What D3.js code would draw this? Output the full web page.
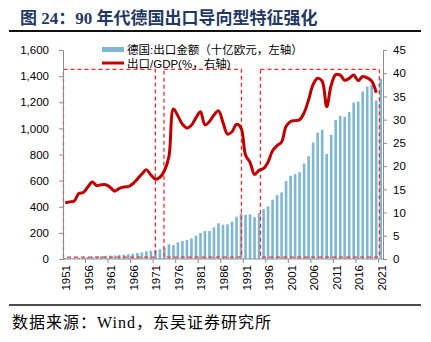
<!DOCTYPE html>
<html>
<head>
<meta charset="utf-8">
<script src="https://cdn.jsdelivr.net/npm/d3@7"></script>
<style>
  body { margin: 0; background: #fff; }
  svg text { font-family: "Liberation Sans", Arial, "Noto Sans CJK SC", sans-serif; }
</style>
</head>
<body>
<div id="chart"></div>
<script>
(function () {

  // years on the category axis
  var years = d3.range(1951, 2022)

  // exports, bn EUR (left axis)
  var exportValues = [
    7.5, 8.7, 9.6, 11.4, 13.1, 15.8, 18.3, 18.9, 21.0, 24.4,
    26.1, 26.9, 30.0, 33.0, 36.6, 41.1, 44.6, 50.0, 58.6, 64.1,
    69.9, 74, 87, 112, 107, 128, 138, 145, 158, 179,
    199, 214, 214, 242, 273, 263, 265, 286, 324, 350,
    337, 342, 321, 352, 382, 403, 454, 489, 510, 596,
    637, 650, 665, 731, 787, 892, 968, 989, 805, 950,
    1065, 1096, 1088, 1126, 1198, 1205, 1282, 1320, 1333, 1213,
    1379
  ]

  // exports / GDP, % (right axis), 1951-2020
  var ratioValues = [
    12.1, 12.3, 12.5, 14.1, 14.3, 15.5, 16.6, 15.8, 16.0, 16.0,
    15.4, 14.6, 15.2, 15.5, 15.6, 16.2, 17.2, 18.3, 19.2, 18.1,
    17.2, 17.6, 19.0, 22.0, 32.3, 30.8, 29.0, 28.2, 28.8, 30.4,
    31.7, 28.9, 29.6, 31.0, 31.9, 29.4, 26.9, 27.4, 29.0, 28.2,
    22.4, 20.8, 18.2, 19.1, 19.5, 20.9, 23.3, 24.4, 25.2, 28.6,
    29.6, 29.8, 30.0, 31.5, 34.3, 37.6, 38.9, 38.3, 32.8, 37.4,
    39.7, 39.6, 38.5, 38.9, 39.6, 38.4, 39.3, 39.0, 38.3, 35.8
  ]

  // tick labels
  var leftTicks = d3.range(0, 1601, 200)
  var rightTicks = d3.range(0, 46, 5)
  var xLabelYears = d3.range(1951, 2022, 5)

  // highlighted periods [start, end] as fractional years
  var periods = [[1950.6, 1971.0], [1972.9, 1990.1], [1994.3, 2020.7]]

  var legendNames = ['德国:出口金额（十亿欧元，左轴）', '出口/GDP(%，右轴)']

  var width = 431, height = 342
  var plot = { left: 63, right: 383, top: 50, bottom: 259 }

  var svg = d3.select('#chart').append('svg')
      .attr('width', width)
      .attr('height', height)

  // title
  svg.append('text')
    .attr('x', 20)
    .attr('y', 24)
    .attr('fill', '#1f3864')
    .attr('font-weight', 'bold')
    .attr('font-size', 17)
    .style('font-family', '"Liberation Serif", "Noto Sans CJK SC", serif')
    .text('图 24：90 年代德国出口导向型特征强化')

  svg.append('line')
    .attr('x1', 9).attr('x2', 421)
    .attr('y1', 31).attr('y2', 31)
    .attr('stroke', '#111').attr('stroke-width', 2)

  // scales
  const x = d3.scaleBand()
    .domain(years)
    .range([plot.left, plot.right])
    .paddingInner(0.42)
    .paddingOuter(0.21)

  const step = x.step()
  const cx = d => x(d) + x.bandwidth() / 2
  const xYear = t => plot.left + (t - 1951 + 0.5) * step

  const yLeft = d3.scaleLinear().domain([0, 1600]).range([plot.bottom, plot.top])
  const yRight = d3.scaleLinear().domain([0, 45]).range([plot.bottom, plot.top])

  // bars
  svg.append('g').selectAll('rect')
    .data(years)
    .join('rect')
    .attr('x', d => x(d))
    .attr('width', x.bandwidth())
    .attr('y', (d, i) => yLeft(exportValues[i]))
    .attr('height', (d, i) => plot.bottom - yLeft(exportValues[i]))
    .attr('fill', '#7db7d4')

  // dashed boxes
  svg.append('g').selectAll('rect')
    .data(periods)
    .join('rect')
    .attr('x', d => xYear(d[0]))
    .attr('width', d => xYear(d[1]) - xYear(d[0]))
    .attr('y', yLeft(1452))
    .attr('height', yLeft(15) - yLeft(1452))
    .attr('fill', 'none')
    .attr('stroke', '#ff2a2a')
    .attr('stroke-width', 1.3)
    .attr('stroke-dasharray', '4,3')

  // line
  const line = d3.line()
    .x((d, i) => cx(years[i]))
    .y(d => yRight(d))
    .curve(d3.curveCatmullRom)

  svg.append('path')
    .datum(ratioValues)
    .attr('d', line)
    .attr('fill', 'none')
    .attr('stroke', '#c00000')
    .attr('stroke-width', 3)
    .attr('stroke-linejoin', 'round')

  // left axis
  const leftAxis = svg.append('g')
    .attr('transform', 'translate(' + plot.left + ',0)')
    .call(d3.axisLeft(yLeft).tickValues(leftTicks).tickFormat(d3.format(',')).tickSize(4).tickPadding(10))
  leftAxis.selectAll('text').attr('font-size', 11.5).attr('fill', '#000')

  // right axis
  const rightAxis = svg.append('g')
    .attr('transform', 'translate(' + plot.right + ',0)')
    .call(d3.axisRight(yRight).tickValues(rightTicks).tickSize(4).tickPadding(6))
  rightAxis.selectAll('text').attr('font-size', 11.5).attr('fill', '#000')

  // bottom axis
  const bottomAxis = svg.append('g')
  bottomAxis.append('line')
    .attr('x1', plot.left).attr('x2', plot.right)
    .attr('y1', plot.bottom).attr('y2', plot.bottom)
  bottomAxis.selectAll('line.tick')
    .data(xLabelYears.slice(1))
    .join('line')
    .attr('class', 'tick')
    .attr('x1', d => x(d) - (step - x.bandwidth()) / 2)
    .attr('x2', d => x(d) - (step - x.bandwidth()) / 2)
    .attr('y1', plot.bottom).attr('y2', plot.bottom + 4)
  bottomAxis.selectAll('text')
    .data(xLabelYears)
    .join('text')
    .attr('transform', d => 'translate(' + (cx(d) + 1) + ',' + (plot.bottom + 6) + ') rotate(-90)')
    .attr('text-anchor', 'end')
    .attr('dy', '0.35em')
    .attr('font-size', 11.5)
    .attr('fill', '#000')
    .text(d => d)

  svg.selectAll('.domain, .tick line, line.tick').attr('stroke', '#8c8c8c')
  bottomAxis.select('line').attr('stroke', '#8c8c8c')

  // legend
  const legend = svg.append('g')
  legend.append('rect')
    .attr('x', 102).attr('y', 47)
    .attr('width', 22).attr('height', 5)
    .attr('fill', '#7db7d4')
  legend.append('line')
    .attr('x1', 102).attr('x2', 124)
    .attr('y1', 63).attr('y2', 63)
    .attr('stroke', '#c00000').attr('stroke-width', 3)
  legend.selectAll('text')
    .data(legendNames)
    .join('text')
    .attr('x', 127)
    .attr('y', (d, i) => 53.5 + i * 14)
    .attr('font-size', 11.5)
    .attr('fill', '#000')
    .text(d => d)

  // source
  svg.append('line')
    .attr('x1', 9).attr('x2', 421)
    .attr('y1', 305).attr('y2', 305)
    .attr('stroke', '#111').attr('stroke-width', 1.5)

  svg.append('text')
    .attr('x', 12)
    .attr('y', 328)
    .attr('font-size', 16)
    .attr('letter-spacing', 1)
    .attr('fill', '#000')
    .style('font-family', '"Liberation Serif", "Noto Sans CJK SC", serif')
    .text('数据来源：Wind，东吴证券研究所')

})();
</script>
</body>
</html>
